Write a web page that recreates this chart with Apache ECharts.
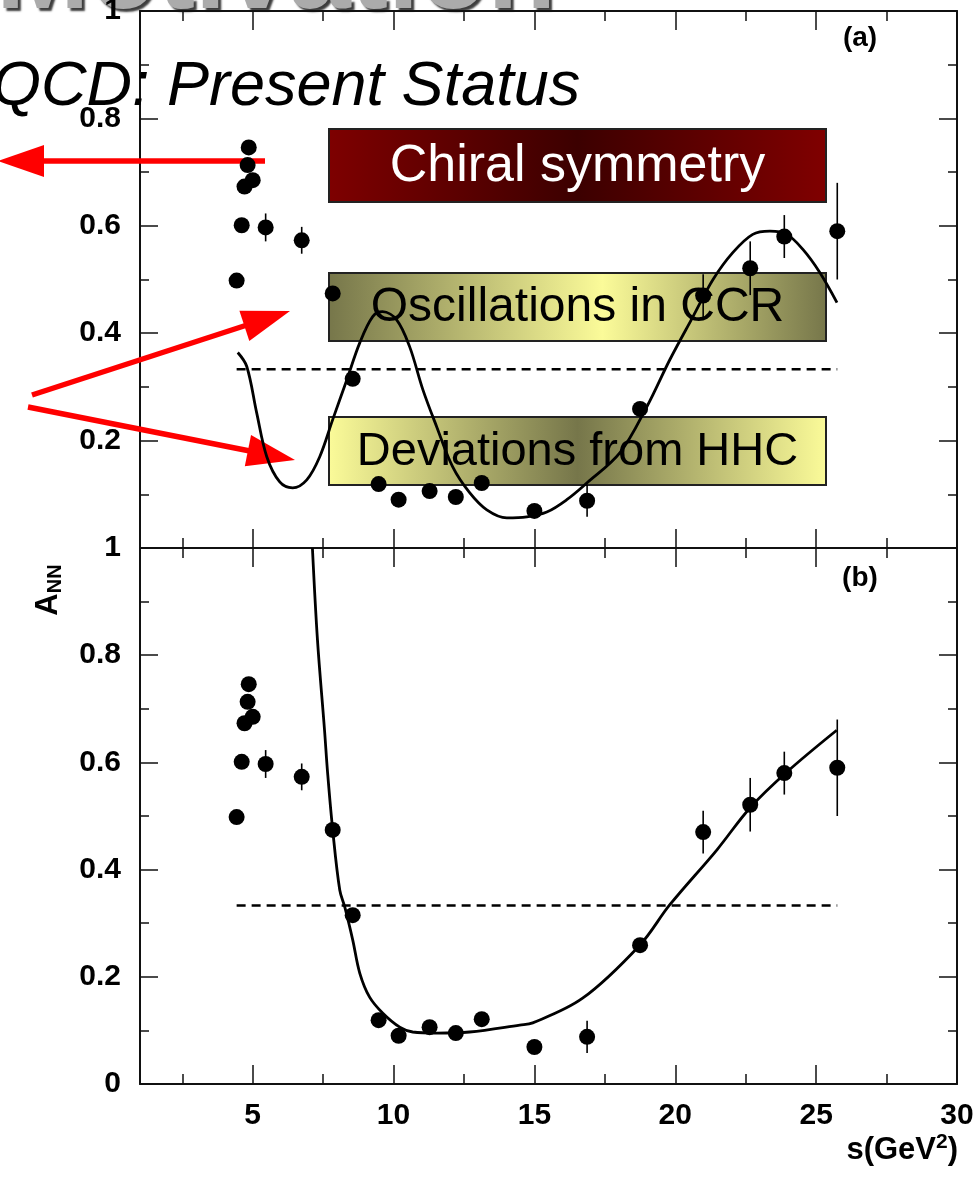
<!DOCTYPE html>
<html>
<head>
<meta charset="utf-8">
<script src="https://cdn.jsdelivr.net/npm/echarts@6/dist/echarts.min.js"></script>
<style>
  html, body { margin: 0; padding: 0; background: #ffffff; }
  #chart { width: 977px; height: 1178px; }
</style>
</head>
<body>
<div id="chart"></div>
<script>
// Measured spin-correlation asymmetry A_NN versus s (GeV^2)
const sValues   = [4.43, 4.61, 4.71, 4.82, 4.86, 5.00, 5.46, 6.74, 7.84, 8.55, 9.47, 10.18, 11.28, 12.21, 13.13, 15.00, 16.87, 18.75, 20.99, 22.66, 23.87, 25.75];
const annValues = [0.498, 0.601, 0.673, 0.713, 0.746, 0.685, 0.597, 0.573, 0.474, 0.315, 0.119, 0.090, 0.106, 0.095, 0.121, 0.069, 0.088, 0.259, 0.470, 0.521, 0.580, 0.590];
const annErrors = [0, 0, 0, 0, 0, 0, 0.026, 0.025, 0, 0, 0, 0, 0, 0, 0, 0, 0.03, 0, 0.04, 0.05, 0.04, 0.09];

// Model curve of panel (a): oscillating description
const oscS = [4.47, 4.79, 5.14, 5.50, 5.96, 6.42, 6.92, 7.38, 7.84, 8.34, 8.80, 9.26, 9.61, 10.11, 10.57, 11.04, 11.53, 12.10, 12.70, 13.31, 14.02, 14.73, 15.44, 16.15, 16.86, 18.03, 18.99, 19.81, 20.63, 21.34, 22.04, 22.75, 23.36, 23.96, 24.53, 25.13, 25.74];
const oscA = [0.364, 0.338, 0.252, 0.170, 0.123, 0.112, 0.127, 0.170, 0.239, 0.313, 0.382, 0.431, 0.440, 0.425, 0.375, 0.295, 0.226, 0.151, 0.103, 0.071, 0.056, 0.058, 0.067, 0.090, 0.121, 0.177, 0.263, 0.351, 0.431, 0.500, 0.550, 0.584, 0.590, 0.584, 0.556, 0.513, 0.457];

// Model curve of panel (b)
const fitS = [7.12, 7.30, 7.55, 7.66, 7.84, 8.09, 8.27, 8.55, 8.80, 9.15, 9.62, 10.22, 10.68, 11.53, 12.70, 14.48, 14.94, 16.71, 18.74, 19.80, 21.48, 22.65, 23.96, 25.73];
const fitA = [1.000, 0.828, 0.660, 0.580, 0.474, 0.362, 0.330, 0.269, 0.207, 0.162, 0.132, 0.106, 0.097, 0.095, 0.097, 0.110, 0.114, 0.160, 0.259, 0.334, 0.437, 0.515, 0.582, 0.660];

// Hard-scattering (HHC) reference level
const hhcS = [4.43, 25.75];
const hhcA = [0.333, 0.333];

// Tick positions on the s axis
const majorSTicks = [5, 10, 15, 20, 25, 30];
const minorSTicks = [2.5, 7.5, 12.5, 17.5, 22.5, 27.5];

const FONT = '"Liberation Sans", Arial, Helvetica, sans-serif';
const AX = '#111';

function xAxesFor(gridIndex, withLabels) {
  const base = { type: 'value', gridIndex: gridIndex, min: 1, max: 30, splitLine: { show: false } };
  const majorTick = { show: true, inside: true, length: 19, customValues: majorSTicks, lineStyle: { color: AX, width: 1.5 } };
  const minorTick = { show: true, inside: true, length: 10, customValues: minorSTicks, lineStyle: { color: AX, width: 1.5 } };
  return [
    Object.assign({}, base, {
      position: 'bottom',
      axisLine: { show: true, lineStyle: { color: AX, width: 2 } },
      axisTick: majorTick,
      axisLabel: withLabels ? {
        show: true, customValues: majorSTicks, margin: 17,
        fontFamily: FONT, fontWeight: 'bold', fontSize: 30, color: '#000'
      } : { show: false }
    }),
    Object.assign({}, base, { position: 'bottom', axisLine: { show: false }, axisTick: minorTick, axisLabel: { show: false } }),
    Object.assign({}, base, {
      position: 'top',
      axisLine: { show: true, lineStyle: { color: AX, width: 2 } },
      axisTick: majorTick, axisLabel: { show: false }
    }),
    Object.assign({}, base, { position: 'top', axisLine: { show: false }, axisTick: minorTick, axisLabel: { show: false } })
  ];
}

function yAxesFor(gridIndex, hideMinLabel) {
  const base = {
    type: 'value', gridIndex: gridIndex, min: 0, max: 1, interval: 0.2,
    splitLine: { show: false },
    axisLine: { show: true, lineStyle: { color: AX, width: 2 } },
    axisTick: { show: true, inside: true, length: 18, lineStyle: { color: AX, width: 1.5 } },
    minorTick: { show: true, splitNumber: 2, length: 9, lineStyle: { color: AX, width: 1.5 } }
  };
  return [
    Object.assign({}, base, {
      position: 'left',
      axisLabel: {
        show: true, showMinLabel: !hideMinLabel, margin: 19,
        fontFamily: FONT, fontWeight: 'bold', fontSize: 30, color: '#000'
      }
    }),
    Object.assign({}, base, { position: 'right', axisLabel: { show: false } })
  ];
}

function panelSeries(xIdx, yIdx, curveS, curveA) {
  return [
    {
      type: 'line', xAxisIndex: xIdx, yAxisIndex: yIdx,
      data: hhcS.map((s, i) => [s, hhcA[i]]),
      showSymbol: false, silent: true,
      lineStyle: { color: '#000', width: 2.5, type: [9, 6] }, z: 3
    },
    {
      type: 'line', xAxisIndex: xIdx, yAxisIndex: yIdx,
      data: curveS.map((s, i) => [s, curveA[i]]),
      smooth: 0.35, showSymbol: false, silent: true,
      lineStyle: { color: '#000', width: 2.8 }, z: 4
    },
    {
      type: 'custom', xAxisIndex: xIdx, yAxisIndex: yIdx,
      data: sValues.map((s, i) => [s, annValues[i] - annErrors[i], annValues[i] + annErrors[i]]),
      renderItem: function (params, api) {
        const lo = api.coord([api.value(0), api.value(1)]);
        const hi = api.coord([api.value(0), api.value(2)]);
        return {
          type: 'line',
          shape: { x1: lo[0], y1: lo[1], x2: hi[0], y2: hi[1] },
          style: { stroke: '#000', lineWidth: 1.6 }
        };
      },
      z: 5
    },
    {
      type: 'scatter', xAxisIndex: xIdx, yAxisIndex: yIdx,
      data: sValues.map((s, i) => [s, annValues[i]]),
      symbol: 'circle', symbolSize: 16,
      itemStyle: { color: '#000', opacity: 1 }, z: 6
    }
  ];
}

function hGradient(stops) {
  return {
    type: 'linear', x: 0, y: 0, x2: 1, y2: 0,
    colorStops: stops.map(s => ({ offset: s[0], color: s[1] }))
  };
}

function arrow(tail, tip, headLen, headHalf) {
  const dx = tip[0] - tail[0], dy = tip[1] - tail[1];
  const len = Math.sqrt(dx * dx + dy * dy);
  const ux = dx / len, uy = dy / len;
  const bx = tip[0] - ux * headLen, by = tip[1] - uy * headLen;
  const px = -uy * headHalf, py = ux * headHalf;
  return [
    { type: 'line', z: 1, shape: { x1: tail[0], y1: tail[1], x2: bx + ux * 2, y2: by + uy * 2 },
      style: { stroke: '#ff0000', lineWidth: 5.5 } },
    { type: 'polygon', z: 1, shape: { points: [tip, [bx + px, by + py], [bx - px, by - py]] },
      style: { fill: '#ff0000' } }
  ];
}

function labelBox(x, y, w, h, fill, text, color, size) {
  return [
    { type: 'rect', z: 1, shape: { x: x, y: y, width: w, height: h },
      style: { fill: fill, stroke: '#222', lineWidth: 2 } },
    { type: 'text', z: 1, style: {
        text: text, x: x + w / 2, y: y + h / 2 + 1,
        textAlign: 'center', textVerticalAlign: 'middle',
        font: size + 'px ' + FONT, fill: color } }
  ];
}

const darkOlive = '#76764a';
const paleYellow = '#fbfb99';

const graphics = [].concat(
  [{
    type: 'text', z: -1, style: {
      text: 'Motivation', x: 556, y: 33, textAlign: 'right', textVerticalAlign: 'bottom',
      font: 'bold 112px ' + FONT, fill: '#ababab',
      textShadowColor: 'rgba(40,40,40,0.9)', textShadowOffsetX: 3, textShadowOffsetY: 3, textShadowBlur: 2
    }
  },
  {
    type: 'text', z: 1, style: {
      text: 'QCD: Present Status', x: -8, y: 87, textAlign: 'left', textVerticalAlign: 'middle',
      font: 'italic 63px ' + FONT, fill: '#000'
    }
  }],
  labelBox(329, 129, 497, 73, hGradient([[0, '#7e0000'], [0.5, '#3c0000'], [1, '#800000']]), 'Chiral symmetry', '#ffffff', 52),
  labelBox(329, 273, 497, 68, hGradient([[0, darkOlive], [0.55, paleYellow], [1, darkOlive]]), 'Oscillations in CCR', '#000000', 48),
  labelBox(329, 417, 497, 68, hGradient([[0, paleYellow], [0.5, darkOlive], [1, paleYellow]]), 'Deviations from HHC', '#000000', 47),
  arrow([265, 161], [-2, 161], 46, 16),
  arrow([32, 395], [290, 311], 48, 16),
  arrow([28, 407], [295, 460], 48, 16),
  [
    { type: 'text', z: 10, style: { text: '(a)', x: 860, y: 38, textAlign: 'center', textVerticalAlign: 'middle',
        font: 'bold 28px ' + FONT, fill: '#000' } },
    { type: 'text', z: 10, style: { text: '(b)', x: 860, y: 578, textAlign: 'center', textVerticalAlign: 'middle',
        font: 'bold 28px ' + FONT, fill: '#000' } },
    { type: 'text', z: 10, style: {
        text: '{m|s(GeV}{sup|2}{m|)}', x: 958, y: 1150, textAlign: 'right', textVerticalAlign: 'middle',
        rich: {
          m: { fontFamily: FONT, fontWeight: 'bold', fontSize: 31, fill: '#000' },
          sup: { fontFamily: FONT, fontWeight: 'bold', fontSize: 21, fill: '#000', padding: [0, 0, 16, 0] }
        } } },
    { type: 'text', z: 10, x: 48, y: 590, rotation: Math.PI / 2, style: {
        text: '{m|A}{sub|NN}', x: 0, y: 0, textAlign: 'center', textVerticalAlign: 'middle',
        rich: {
          m: { fontFamily: FONT, fontWeight: 'bold', fontSize: 31, fill: '#000' },
          sub: { fontFamily: FONT, fontWeight: 'bold', fontSize: 20, fill: '#000', padding: [14, 0, 0, 0] }
        } } }
  ]
);

const chart = echarts.init(document.getElementById('chart'), null, { renderer: 'canvas' });
chart.setOption({
  backgroundColor: '#ffffff',
  animation: false,
  grid: [
    { left: 140, top: 11, right: 20, height: 537, containLabel: false, outerBoundsMode: 'none' },
    { left: 140, top: 548, right: 20, height: 536, containLabel: false, outerBoundsMode: 'none' }
  ],
  xAxis: [].concat(xAxesFor(0, false), xAxesFor(1, true)),
  yAxis: [].concat(yAxesFor(0, true), yAxesFor(1, false)),
  series: [].concat(panelSeries(0, 0, oscS, oscA), panelSeries(4, 2, fitS, fitA)),
  graphic: graphics
});
</script>
</body>
</html>
